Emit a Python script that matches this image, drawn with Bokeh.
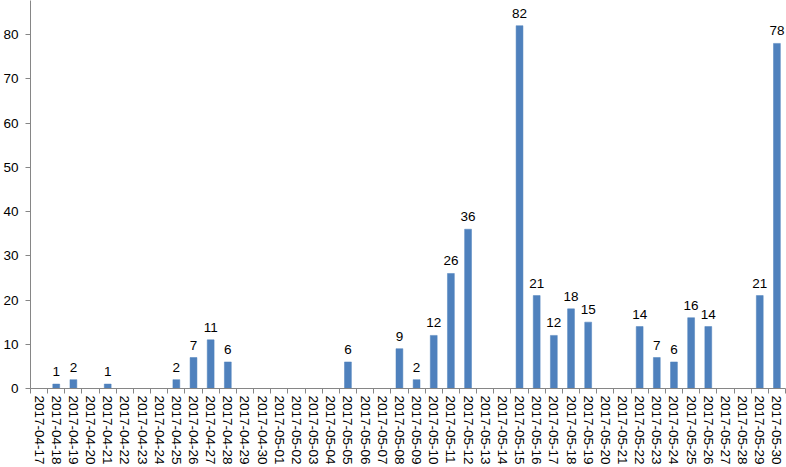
from bokeh.plotting import figure
from bokeh.models import ColumnDataSource, LabelSet, FixedTicker, Range1d
from bokeh.core.properties import value
from bokeh.embed import file_html
from bokeh.resources import INLINE

dates = [
    "2017-04-17", "2017-04-18", "2017-04-19", "2017-04-20", "2017-04-21",
    "2017-04-22", "2017-04-23", "2017-04-24", "2017-04-25", "2017-04-26",
    "2017-04-27", "2017-04-28", "2017-04-29", "2017-04-30", "2017-05-01",
    "2017-05-02", "2017-05-03", "2017-05-04", "2017-05-05", "2017-05-06",
    "2017-05-07", "2017-05-08", "2017-05-09", "2017-05-10", "2017-05-11",
    "2017-05-12", "2017-05-13", "2017-05-14", "2017-05-15", "2017-05-16",
    "2017-05-17", "2017-05-18", "2017-05-19", "2017-05-20", "2017-05-21",
    "2017-05-22", "2017-05-23", "2017-05-24", "2017-05-25", "2017-05-26",
    "2017-05-27", "2017-05-28", "2017-05-29", "2017-05-30",
]
counts = [
    0, 1, 2, 0, 1,
    0, 0, 0, 2, 7,
    11, 6, 0, 0, 0,
    0, 0, 0, 6, 0,
    0, 9, 2, 12, 26,
    36, 0, 0, 82, 21,
    12, 18, 15, 0, 0,
    14, 7, 6, 16, 14,
    0, 0, 21, 78,
]
y_ticks = [0, 10, 20, 30, 40, 50, 60, 70, 80]

n = len(dates)
pos = list(range(n))
src = ColumnDataSource(dict(x=pos, y=counts, d=dates))
lab_idx = [i for i in pos if counts[i] != 0]
lab_src = ColumnDataSource(dict(x=lab_idx, y=[counts[i] for i in lab_idx],
                                t=[str(counts[i]) for i in lab_idx]))

FONT = "Liberation Sans"
AXIS = "#868686"

p = figure(width=786, height=467, output_backend="svg", toolbar_location=None,
           x_range=Range1d(-0.5, n - 0.5), y_range=Range1d(0, 87.7),
           min_border_left=27, min_border_right=1, min_border_top=0,
           min_border_bottom=79)
p.outline_line_color = None
p.grid.grid_line_color = None

p.vbar(x="x", top="y", width=0.4, source=src, fill_color="#4F81BD",
       line_color="#4F81BD", line_width=0.5)

labels = LabelSet(x="x", y="y", text="t", source=lab_src, text_align="center",
                  text_baseline="alphabetic", y_offset=8, text_font=value(FONT),
                  text_font_size="13.5px", text_color="#000000")
p.add_layout(labels)

xa = p.xaxis[0]
xa.ticker = FixedTicker(ticks=pos, minor_ticks=[i - 0.5 for i in range(n + 1)])
xa.major_label_overrides = {i: dates[i] for i in pos}
xa.major_label_orientation = "vertical"
xa.major_tick_out = 0
xa.major_tick_in = 0
xa.minor_tick_out = 5
xa.minor_tick_in = 0
xa.minor_tick_line_color = AXIS
xa.axis_line_color = AXIS
xa.major_label_standoff = 2
xa.major_label_text_font = FONT
xa.major_label_text_font_size = "13.5px"
xa.major_label_text_color = "#000000"

ya = p.yaxis[0]
ya.ticker = FixedTicker(ticks=y_ticks)
ya.major_tick_out = 5
ya.major_tick_in = 0
ya.minor_tick_line_color = None
ya.major_tick_line_color = AXIS
ya.axis_line_color = AXIS
ya.major_label_standoff = 7
ya.major_label_text_font = FONT
ya.major_label_text_font_size = "13.5px"
ya.major_label_text_color = "#000000"

open("out.html", "w").write(file_html(p, INLINE))
